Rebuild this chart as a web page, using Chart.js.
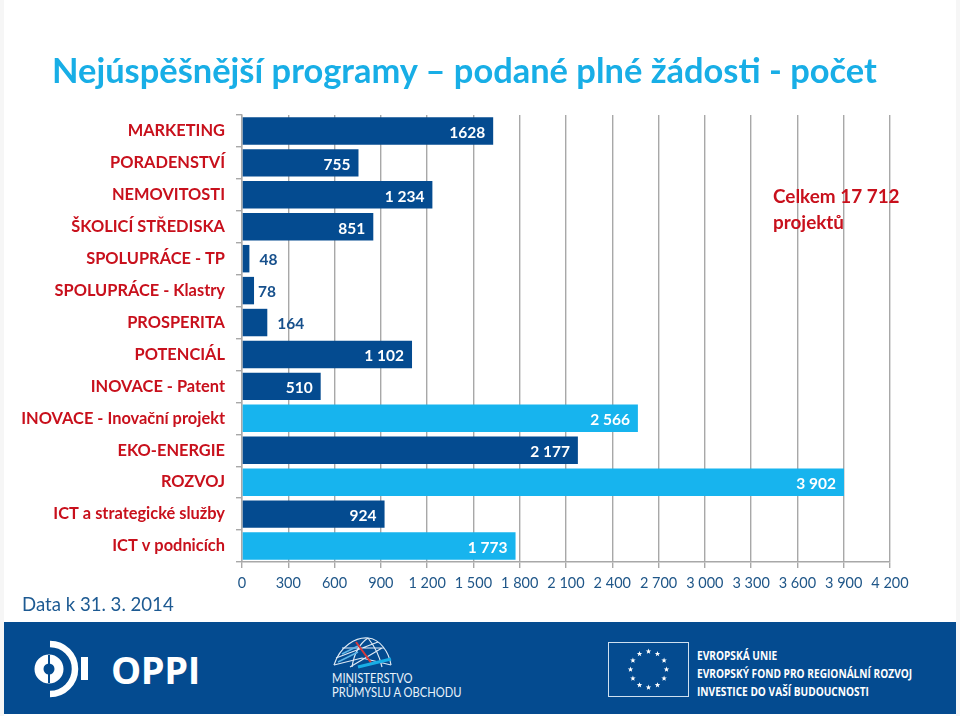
<!DOCTYPE html>
<html lang="cs">
<head>
<meta charset="utf-8">
<title>Nejúspěšnější programy</title>
<script src="https://cdn.jsdelivr.net/npm/chart.js@4"></script>
<style>
    html, body { margin: 0; padding: 0; background: #fff; }
    #slide { position: relative; width: 960px; height: 716px; overflow: hidden; background: #fff; font-family: Lato, sans-serif; }
    #slide > div, #slide > svg { position: absolute; white-space: nowrap; }
    canvas { position: absolute; left: 0; top: 0; }
    #okraj-l { left: 0; top: 0; width: 4px; height: 716px; background: #f6f6f6; }
    #okraj-p { left: 956px; top: 0; width: 4px; height: 716px; background: #f6f6f6; }
    #nadpis { left: 52px; top: 49px; font-size: 34.45px; line-height: 42px; font-weight: 700; color: #18aee6; }
    #celkem { left: 773px; top: 183px; font-size: 18.9px; line-height: 26px; font-weight: 700; color: #c8101c; }
    #datum { left: 22px; top: 593px; font-size: 18.6px; line-height: 22px; color: #1d5a92; }
    #pata { left: 4px; top: 622px; width: 952px; height: 92px; background: #044b90; }
    #oppi { left: 111px; top: 647px; font-family: "Open Sans", sans-serif; font-size: 38px; line-height: 44px; font-weight: 700; color: #fff; letter-spacing: -0.4px; }
    .mpo { left: 332px; font-size: 13.2px; line-height: 15px; color: #e8f2fa; font-weight: 400; transform-origin: left center; transform: scaleX(0.85); }
    .eu { left: 697px; font-family: "Open Sans", sans-serif; font-size: 12.5px; line-height: 16px; font-weight: 700; color: #fff; transform-origin: left center; transform: scaleX(0.81); }
</style>
</head>
<body>
<div id="slide">
    <canvas id="graf" width="960" height="716"></canvas>
    <div id="okraj-l"></div>
    <div id="okraj-p"></div>
    <div id="nadpis">Nejúspěšnější programy – podané plné žádosti - počet</div>
    <div id="celkem">Celkem 17 712<br>projektů</div>
    <div id="datum">Data k 31. 3. 2014</div>
    <div id="pata"></div>
    <svg style="left:30px;top:640px" width="60" height="60" viewBox="0 0 60 60">
        <circle cx="19" cy="29" r="10" fill="none" stroke="#fff" stroke-width="9"/>
        <rect x="18" y="15" width="2" height="28" fill="#044b90"/>
        <path d="M20 4 A 25 25 0 0 1 20 54" fill="none" stroke="#fff" stroke-width="6.5"/>
        <rect x="51" y="17" width="7" height="23" fill="#fff"/>
    </svg>
    <div id="oppi">OPPI</div>
    <svg style="left:332px;top:634px" width="62" height="36" viewBox="0 0 62 36">
        <g fill="none" stroke="#dfeaf5" stroke-width="1.2">
            <path d="M2 31 C 8 12 24 3 36 4 C 48 5 57 18 59 31"/>
            <path d="M20 33 C 22 20 27 10 36 4"/>
            <path d="M2 31 L 30 24 L 59 31"/>
            <path d="M36 4 C 44 14 48 24 50 33"/>
            <path d="M10 14 L 52 14 M 4 24 L 46 8 M 18 33 L 50 14"/>
        </g>
        <path d="M10 20 L 26 12 M 6 28 L 26 18" stroke="#5db6e8" stroke-width="1.6"/>
        <path d="M24 8 L 40 30" stroke="#d8393a" stroke-width="2"/>
        <path d="M26 33 L 59 25" stroke="#18aee6" stroke-width="3"/>
    </svg>
    <div class="mpo" style="top:671px">MINISTERSTVO</div>
    <div class="mpo" style="top:685px">PRŮMYSLU A OBCHODU</div>
    <svg id="vlajka" style="left:608px;top:642px" width="81" height="55" viewBox="0 0 81 55">
        <rect x="0.5" y="0.5" width="80" height="54" fill="#044b90" stroke="#cfe0f0" stroke-width="1"/>
    </svg>
    <div class="eu" style="top:648px">EVROPSKÁ UNIE</div>
    <div class="eu" style="top:666px">EVROPSKÝ FOND PRO REGIONÁLNÍ ROZVOJ</div>
    <div class="eu" style="top:684px">INVESTICE DO VAŠÍ BUDOUCNOSTI</div>
</div>
<script>
'use strict';

// Programy shora dolů
const programy = [
    "MARKETING", "PORADENSTVÍ", "NEMOVITOSTI", "ŠKOLICÍ STŘEDISKA", "SPOLUPRÁCE - TP",
    "SPOLUPRÁCE - Klastry", "PROSPERITA", "POTENCIÁL", "INOVACE - Patent",
    "INOVACE - Inovační projekt", "EKO-ENERGIE", "ROZVOJ", "ICT a strategické služby", "ICT v podnicích"
];
const pocty = [1628, 755, 1234, 851, 48, 78, 164, 1102, 510, 2566, 2177, 3902, 924, 1773];
const popisky = ["1628", "755", "1 234", "851", "48", "78", "164", "1 102", "510", "2 566", "2 177", "3 902", "924", "1 773"];
const svetleProgramy = ["INOVACE - Inovační projekt", "ROZVOJ", "ICT v podnicích"];
const popiskyX = ["0", "300", "600", "900", "1 200", "1 500", "1 800", "2 100", "2 400", "2 700", "3 000", "3 300", "3 600", "3 900", "4 200"];

const TMAVA = "#044b90";
const SVETLA = "#17b4ee";
const CERVENA = "#c8101c";
const MRIZKA = "#a8a8a8";

// Hvězdy vlajky EU
const vlajka = document.getElementById("vlajka");
for (let i = 0; i < 12; i++) {
    const uhel = i * Math.PI / 6;
    const cx = 40.5 + 18 * Math.sin(uhel);
    const cy = 27.5 - 18 * Math.cos(uhel);
    let body = "";
    for (let k = 0; k < 10; k++) {
        const r = k % 2 ? 1.2 : 2.9;
        const a = k * Math.PI / 5;
        body += (cx + r * Math.sin(a)).toFixed(2) + "," + (cy - r * Math.cos(a)).toFixed(2) + " ";
    }
    const hvezda = document.createElementNS("http://www.w3.org/2000/svg", "polygon");
    hvezda.setAttribute("points", body);
    hvezda.setAttribute("fill", "#fff");
    vlajka.appendChild(hvezda);
}

// Popisky hodnot: velké uvnitř sloupce, malé vedle něj
const popiskyHodnot = {
    id: "popiskyHodnot",
    afterDatasetsDraw(chart) {
        const ctx = chart.ctx;
        const vne = { "48": 10, "78": 4, "164": 10 };
        ctx.save();
        ctx.font = "700 15.5px Lato";
        ctx.textBaseline = "middle";
        chart.getDatasetMeta(0).data.forEach((bar, i) => {
            const text = popisky[i];
            if (vne[text] !== undefined) {
                ctx.fillStyle = "#17508c";
                ctx.textAlign = "left";
                ctx.fillText(text, bar.x + vne[text], bar.y + 1);
            } else {
                ctx.fillStyle = "#fff";
                ctx.textAlign = "right";
                ctx.fillText(text, bar.x - 8, bar.y + 2);
            }
        });
        ctx.restore();
    }
};

new Chart(document.getElementById("graf"), {
    type: "bar",
    data: {
        labels: programy,
        datasets: [{
            data: pocty,
            backgroundColor: c => svetleProgramy.includes(programy[c.dataIndex]) ? SVETLA : TMAVA,
            barPercentage: 0.86,
            categoryPercentage: 1
        }]
    },
    options: {
        indexAxis: "y",
        responsive: false,
        animation: false,
        devicePixelRatio: 1,
        layout: { padding: { top: 115, right: 70, bottom: 114, left: 0 } },
        plugins: { legend: { display: false }, tooltip: { enabled: false } },
        scales: {
            x: {
                min: 0,
                max: 4200,
                afterBuildTicks: s => { s.ticks = popiskyX.map((_, i) => ({ value: i * 300 })); },
                afterFit: s => { s.height = 40; s.paddingLeft = 0; s.paddingRight = 0; },
                grid: { color: MRIZKA, lineWidth: 1.4, tickLength: 6 },
                border: { color: MRIZKA, width: 1.4 },
                ticks: {
                    autoSkip: false,
                    maxRotation: 0,
                    padding: 7,
                    color: "#1f5688",
                    font: { family: "Lato", size: 14.5 },
                    callback: (v, i) => popiskyX[i]
                }
            },
            y: {
                afterFit: s => { s.width = 242; s.paddingTop = 0; s.paddingBottom = 0; },
                grid: { drawOnChartArea: false, color: MRIZKA, lineWidth: 1.4, tickLength: 6, offset: true },
                border: { color: MRIZKA, width: 1.4 },
                ticks: {
                    autoSkip: false,
                    padding: 11,
                    color: CERVENA,
                    font: { family: "Lato", size: 16.4, weight: "700" }
                }
            }
        }
    },
    plugins: [popiskyHodnot]
});
</script>
</body>
</html>
